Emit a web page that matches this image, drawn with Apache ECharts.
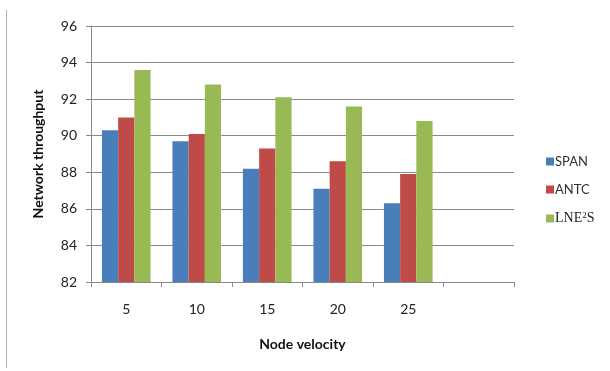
<!DOCTYPE html>
<html><head><meta charset="utf-8">
<script src="https://cdn.jsdelivr.net/npm/echarts@6/dist/echarts.min.js"></script>
<style>html,body{margin:0;padding:0;background:#fff}#c{width:610px;height:371px}</style>
</head><body><div id="c"></div>
<script>
const categories = ['5', '10', '15', '20', '25', ''];
const span = [90.3, 89.7, 88.2, 87.1, 86.3, null];
const antc = [91.0, 90.1, 89.3, 88.6, 87.9, null];
const lne2s = [93.6, 92.8, 92.1, 91.6, 90.8, null];
const yTicks = { min: 82, max: 96, interval: 2 };

const chart = echarts.init(document.getElementById('c'), null, { renderer: 'canvas' });
const axisGrey = '#8a8a8a';
chart.setOption({
  animation: false,
  backgroundColor: '#fff',
  textStyle: { fontFamily: 'Lato, "Open Sans", sans-serif' },
  grid: { left: 91, top: 26, right: 96, bottom: 89, containLabel: false },
  graphic: [{
    type: 'line', shape: { x1: 6.5, y1: 10, x2: 6.5, y2: 368 },
    style: { stroke: '#b0b0b0', lineWidth: 1 }
  }],
  legend: {
    orient: 'vertical', left: 541, top: 150, itemWidth: 8, itemHeight: 8, itemGap: 15,
    icon: 'rect',
    formatter: function (name) {
      if (name === 'LNE²S') return '{serif|LNE}{sup|2}{serif|S}';
      return '{sans|' + name + '}';
    },
    textStyle: {
      padding: [0, 0, 0, -4],
      rich: {
        sans: { fontFamily: 'Lato, sans-serif', fontSize: 13, color: '#333' },
        serif: { fontFamily: '"Liberation Serif", serif', fontSize: 14, color: '#222' },
        sup: { fontFamily: '"Liberation Serif", serif', fontSize: 9, color: '#222', verticalAlign: 'top', padding: [0, 0, 6, 0] }
      }
    },
    data: ['SPAN', 'ANTC', 'LNE²S']
  },
  xAxis: {
    type: 'category', data: categories,
    name: 'Node velocity', nameLocation: 'middle', nameGap: 55,
    nameTextStyle: { fontWeight: 'bold', fontSize: 14, color: '#111' },
    axisLine: { lineStyle: { color: axisGrey } },
    axisTick: { show: true, length: 5, lineStyle: { color: axisGrey } },
    axisLabel: { fontSize: 14, color: '#222', margin: 20 }
  },
  yAxis: {
    type: 'value', min: yTicks.min, max: yTicks.max, interval: yTicks.interval,
    name: 'Network throughput', nameLocation: 'middle', nameGap: 46,
    nameTextStyle: { fontWeight: 'bold', fontSize: 14, color: '#111' },
    axisLine: { show: true, lineStyle: { color: axisGrey } },
    axisTick: { show: true, length: 5, lineStyle: { color: axisGrey } },
    axisLabel: { fontSize: 14, color: '#222', margin: 14 },
    splitLine: { lineStyle: { color: axisGrey } }
  },
  series: [
    { name: 'SPAN', type: 'bar', data: span, itemStyle: { color: '#4a7ebb' }, barGap: '0%', barCategoryGap: '31%' },
    { name: 'ANTC', type: 'bar', data: antc, itemStyle: { color: '#be4b48' }, barGap: '0%', barCategoryGap: '31%' },
    { name: 'LNE²S', type: 'bar', data: lne2s, itemStyle: { color: '#98b954' }, barGap: '0%', barCategoryGap: '31%' }
  ]
});
</script></body></html>
